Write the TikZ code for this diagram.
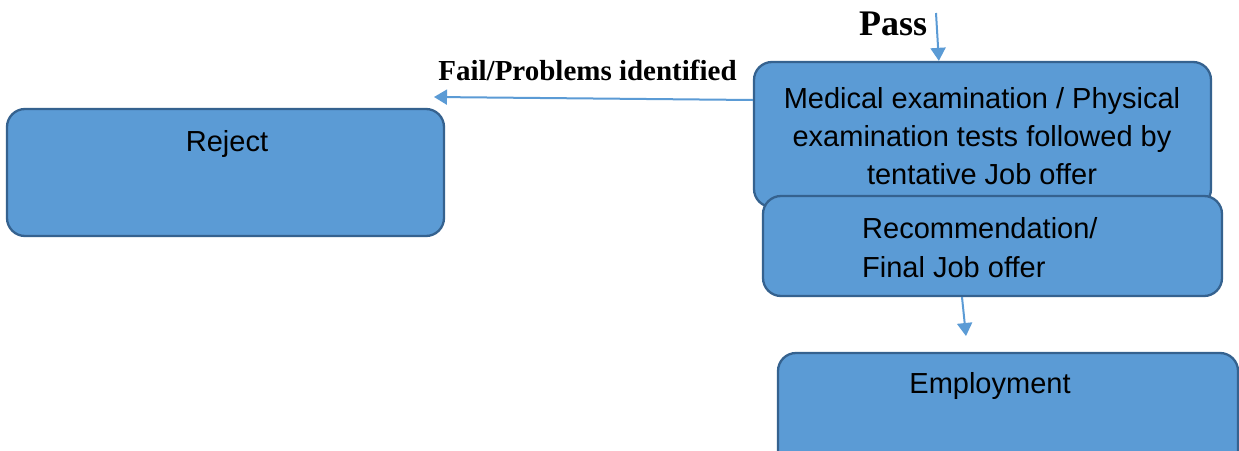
\documentclass[tikz,border=0pt]{standalone}
\usepackage{fontspec}
\setmainfont{Liberation Serif}
\newfontfamily\boxfont{Liberation Sans}
\usetikzlibrary{arrows.meta}
\definecolor{boxfill}{HTML}{5B9BD5}
\definecolor{boxline}{HTML}{35628F}
\definecolor{flowblue}{HTML}{5B9BD5}
\begin{document}
\begin{tikzpicture}[x=1pt,y=-1pt,
  stagebox/.style={draw=boxline, fill=boxfill, line width=2.3pt,
    rounded corners=18pt, inner sep=0pt},
  boxtext/.style={font=\boxfont\fontsize{29}{38}\selectfont, text=black,
    inner sep=0pt},
  flow/.style={draw=flowblue, line width=2pt,
    -{Triangle[length=13pt,width=15pt]}},
  tagtext/.style={font=\bfseries, text=black, inner sep=0pt}]
\useasboundingbox (0,0) rectangle (1239,450);
\fill[white] (0,0) rectangle (1239,450);

% stage boxes
\node[stagebox, minimum width=437pt, minimum height=127pt] (reject) at (225.5,172.5) {};
\node[stagebox, minimum width=457pt, minimum height=145pt] (medical) at (982.5,134.5) {};
\node[stagebox, minimum width=459pt, minimum height=100pt] (recommend) at (992.5,246) {};
\node[stagebox, minimum width=460pt, minimum height=124pt] (employ) at (1008,415) {};

% box texts
\node[boxtext] (rejecttext) at (227,144) {Reject};
\node[boxtext, align=center] (medicaltext) at (982,136)
  {Medical examination / Physical\\examination tests followed by\\tentative Job offer};
\node[boxtext, align=left, anchor=west, font=\boxfont\fontsize{29}{39}\selectfont]
  (recommendtext) at (862,248) {Recommendation/\\Final Job offer};
\node[boxtext] (employtext) at (990,386) {Employment};

% arrow labels
\node[tagtext, font=\bfseries\fontsize{36}{40}\selectfont] (passlabel) at (893,24) {Pass};
\node[tagtext, font=\bfseries\fontsize{29}{32}\selectfont] (faillabel) at (587.5,70)
  {Fail/Problems identified};

% connectors
\coordinate (passstart) at (936,13);
\coordinate (failend) at (434,97);
\coordinate (employend) at (966,336);
\draw[flow] (passstart) -- ([xshift=186pt]medical.north west);
\draw[flow] ([yshift=34.5pt]medical.west) -- (failend);
\draw[flow] ([xshift=-30.5pt]recommend.south) -- (employend);
\end{tikzpicture}
\end{document}
